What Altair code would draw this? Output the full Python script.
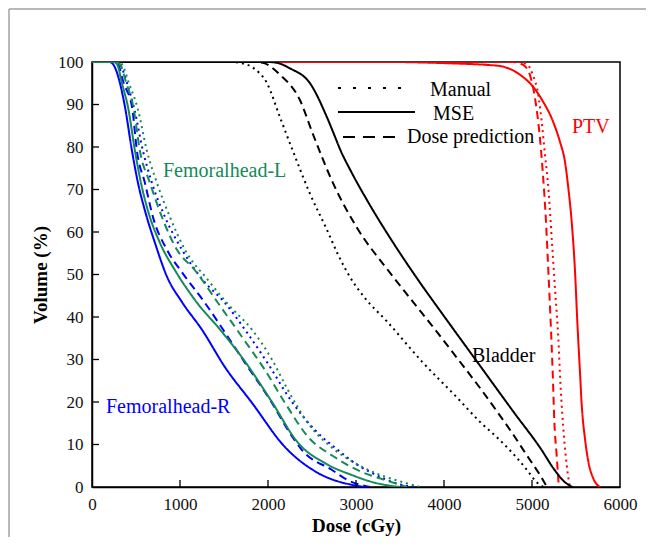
import altair as alt
import pandas as pd

# ---------------- data (dose in cGy, volume in %) ----------------
ptv_manual_dose = [0, 4850, 4950, 5011, 5072, 5110, 5148, 5186, 5224, 5261, 5299, 5326, 5356, 5394, 5430]
ptv_manual_vol = [100, 100, 99.3, 96.9, 92.2, 86, 78.1, 70.3, 58.5, 46.8, 35, 23.2, 13.8, 5.2, 0]
ptv_mse_dose = [0, 3400, 3900, 4200, 4500, 4650, 4864, 5011, 5125, 5239, 5318, 5375, 5413, 5451, 5489,
                5515, 5545, 5565, 5602, 5640, 5697, 5773]
ptv_mse_vol = [100, 100, 99.8, 99.6, 99.3, 99, 97, 94.2, 90.7, 86, 81.2, 76.5, 70.3, 62.4, 50.7,
               38.9, 27.1, 19.3, 11.4, 6, 2, 0]
ptv_pred_dose = [0, 4780, 4900, 4977, 5034, 5083, 5122, 5159, 5186, 5212, 5235, 5254, 5280, 5305]
ptv_pred_vol = [100, 100, 99.3, 96.9, 91.5, 83.6, 74.2, 62.4, 50.7, 38.9, 27.1, 15.4, 7.5, 0]

bladder_manual_dose = [0, 1600, 1682, 1840, 1989, 2136, 2284, 2477, 2670, 2800, 2932, 3100, 3350, 3750,
                       4150, 4400, 4636, 4830, 4943, 5050, 5130]
bladder_manual_vol = [100, 100, 99.8, 98.5, 95, 87, 79, 69, 60.5, 54.5, 49.4, 44.5, 39, 29.5,
                      21, 15.5, 11, 6.8, 4, 1.2, 0]
bladder_mse_dose = [0, 2000, 2102, 2250, 2477, 2670, 2750, 2818, 2950, 3125, 3400, 3700, 4000, 4400,
                    4800, 5100, 5250, 5370, 5460]
bladder_mse_vol = [100, 100, 99.8, 98.5, 95, 87, 83, 79.5, 74, 67.5, 58.2, 48.9, 40.2, 28.8,
                   17.4, 9, 4.2, 1.2, 0]
bladder_pred_dose = [0, 1850, 1943, 2136, 2364, 2511, 2739, 3011, 3364, 3650, 3900, 4150, 4420, 4636,
                     4788, 4943, 5091, 5170]
bladder_pred_vol = [100, 100, 99.8, 97, 91, 83, 71.5, 61, 51, 43.5, 37, 30.3, 23, 16.8,
                    12.3, 7.4, 2.8, 0]

fhr_manual_dose = [0, 280, 318, 398, 480, 580, 682, 830, 1023, 1261, 1511, 1773, 2000, 2273, 2534, 2795, 2989, 3273, 3500, 3670]
fhr_manual_vol = [100, 100, 99.5, 95, 89, 79, 71.5, 63.5, 55.8, 48.7, 43.3, 36, 29, 20, 13.4, 8.7, 5.6, 2.4, 0.6, 0]
fhr_mse_dose = [0, 200, 239, 318, 375, 455, 523, 602, 716, 852, 1023, 1250, 1511, 1818, 2193, 2568, 2955, 3100]
fhr_mse_vol = [100, 100, 99.5, 95, 89.4, 79, 71.5, 65, 57.4, 49.5, 43.5, 37, 28.2, 19.8, 9.4, 3.3, 0.5, 0]
fhr_pred_dose = [0, 250, 295, 360, 455, 511, 602, 693, 852, 1023, 1284, 1545, 1739, 2045, 2227, 2386, 2727, 2909, 3159]
fhr_pred_vol = [100, 100, 99.5, 95, 89.4, 79, 71.5, 63.5, 55.8, 50.5, 43.3, 35.3, 29.2, 19.8, 13.4, 8.7, 4, 1.6, 0]

fhl_manual_dose = [0, 300, 341, 420, 520, 625, 739, 886, 1057, 1318, 1545, 1818, 2045, 2227, 2455, 2761, 2989, 3307, 3557, 3727]
fhl_manual_vol = [100, 100, 99.5, 95, 89, 79, 71.5, 63.5, 55.8, 48.7, 43, 37, 30, 22.8, 15, 8.7, 5.6, 2.6, 1, 0]
fhl_mse_dose = [0, 240, 284, 340, 409, 489, 557, 636, 773, 943, 1170, 1477, 1739, 2045, 2341, 2648, 2955, 3216, 3500]
fhl_mse_vol = [100, 100, 99.5, 95, 89.4, 79, 71.5, 65, 57.4, 51, 44, 36.5, 29.5, 20, 10.4, 5.6, 2.8, 1, 0]
fhl_pred_dose = [0, 270, 318, 390, 470, 545, 659, 795, 966, 1170, 1432, 1705, 1966, 2193, 2455, 2761, 3068, 3307, 3580]
fhl_pred_vol = [100, 100, 99.5, 95, 89.4, 79, 71.5, 63.5, 55.8, 51, 43.3, 35.3, 27.5, 19.8, 11.8, 7, 3.5, 1.8, 0]

organs = ["PTV", "Bladder", "Femoralhead-L", "Femoralhead-R"]
organ_colors = ["#ff0000", "#000000", "#138a57", "#0000ff"]
methods = ["Manual", "MSE", "Dose prediction"]

x_ticks = [0, 1000, 2000, 3000, 4000, 5000, 6000]
y_ticks = [0, 10, 20, 30, 40, 50, 60, 70, 80, 90, 100]
inner_x_ticks = [1000, 2000, 3000, 4000, 5000]
inner_y_ticks = [10, 20, 30, 40, 50, 60, 70, 80, 90]

curves = [
    ("PTV", "Manual", ptv_manual_dose, ptv_manual_vol),
    ("PTV", "MSE", ptv_mse_dose, ptv_mse_vol),
    ("PTV", "Dose prediction", ptv_pred_dose, ptv_pred_vol),
    ("Bladder", "Manual", bladder_manual_dose, bladder_manual_vol),
    ("Bladder", "MSE", bladder_mse_dose, bladder_mse_vol),
    ("Bladder", "Dose prediction", bladder_pred_dose, bladder_pred_vol),
    ("Femoralhead-R", "Manual", fhr_manual_dose, fhr_manual_vol),
    ("Femoralhead-R", "MSE", fhr_mse_dose, fhr_mse_vol),
    ("Femoralhead-R", "Dose prediction", fhr_pred_dose, fhr_pred_vol),
    ("Femoralhead-L", "Manual", fhl_manual_dose, fhl_manual_vol),
    ("Femoralhead-L", "MSE", fhl_mse_dose, fhl_mse_vol),
    ("Femoralhead-L", "Dose prediction", fhl_pred_dose, fhl_pred_vol),
]

rows = []
for organ, method, d, v in curves:
    for i, (dd, vv) in enumerate(zip(d, v)):
        rows.append({"organ": organ, "method": method, "curve": organ + "|" + method,
                     "i": i, "dose": dd, "vol": vv})
df = pd.DataFrame(rows)

FONT = "Liberation Serif"
W, H = 528, 425

x_scale = alt.Scale(domain=[0, 6000], nice=False)
y_scale = alt.Scale(domain=[0, 100], nice=False)

lines = alt.Chart(df).mark_line(strokeWidth=2, interpolate="monotone", clip=True).encode(
    x=alt.X("dose:Q", scale=x_scale,
            axis=alt.Axis(values=x_ticks, title="Dose (cGy)", format="d", ticks=False,
                          labelFlush=False, labelPadding=9, titlePadding=4)),
    y=alt.Y("vol:Q", scale=y_scale,
            axis=alt.Axis(values=y_ticks, title="Volume (%)", format="d", ticks=False,
                          labelFlush=False, labelPadding=9, titlePadding=7)),
    color=alt.Color("organ:N", scale=alt.Scale(domain=organs, range=organ_colors), legend=None),
    strokeDash=alt.StrokeDash("method:N",
                              scale=alt.Scale(domain=methods, range=[[2, 4], [1, 0], [8, 5]]),
                              legend=None),
    detail="curve:N",
    order="i:Q",
)

xt = alt.Chart(pd.DataFrame({"t": inner_x_ticks})).mark_rule(color="black", strokeWidth=1.3).encode(
    x=alt.X("t:Q", scale=x_scale), y=alt.value(H), y2=alt.value(H - 7))
yt = alt.Chart(pd.DataFrame({"t": inner_y_ticks})).mark_rule(color="black", strokeWidth=1.3).encode(
    y=alt.Y("t:Q", scale=y_scale), x=alt.value(0), x2=alt.value(7))

one = alt.Data(values=[{}])


def label(text, x, y, color, size=20):
    return alt.Chart(one).mark_text(text=text, font=FONT, fontSize=size, color=color,
                                    align="left", baseline="middle").encode(
        x=alt.value(x), y=alt.value(y))


def seg(x1, x2, y, dash):
    return alt.Chart(one).mark_rule(color="black", strokeWidth=2, strokeDash=dash).encode(
        x=alt.value(x1), x2=alt.value(x2), y=alt.value(y))


annotations = [
    label("Femoralhead-L", 71, 109, "#138a57"),
    label("Femoralhead-R", 14, 345, "#0000ff"),
    label("Bladder", 380, 294, "black"),
    label("PTV", 480, 65, "#ff0000"),
    seg(246, 316, 26, [3, 12]),
    seg(246, 323, 50, [1, 0]),
    seg(251, 305, 75, [12, 8]),
    label("Manual", 338, 28, "black"),
    label("MSE", 341, 52, "black"),
    label("Dose prediction", 315, 75, "black"),
]

FX, FY = -83, -53
frame_top = alt.Chart(one).mark_rule(color="#a0a0a0", strokeWidth=1.5).encode(
    x=alt.value(FX), x2=alt.value(560), y=alt.value(FY))
frame_left = alt.Chart(one).mark_rule(color="#a0a0a0", strokeWidth=1.5).encode(
    x=alt.value(FX), y=alt.value(FY), y2=alt.value(520))

chart = alt.layer(frame_top, frame_left, lines, xt, yt, *annotations).properties(
    width=W, height=H,
    autosize=alt.AutoSizeParams(type="none"),
    padding={"left": 84, "top": 54, "right": 26, "bottom": 50},
).configure_view(stroke="black", strokeWidth=1.5).configure_axis(
    domainColor="black", domainWidth=1.5, grid=False,
    labelFont=FONT, labelFontSize=17, labelColor="#111",
    titleFont=FONT, titleFontSize=19, titleFontWeight="bold", titleColor="black",
)

chart.save("out.html", embed_options={"renderer": "svg", "actions": False})
